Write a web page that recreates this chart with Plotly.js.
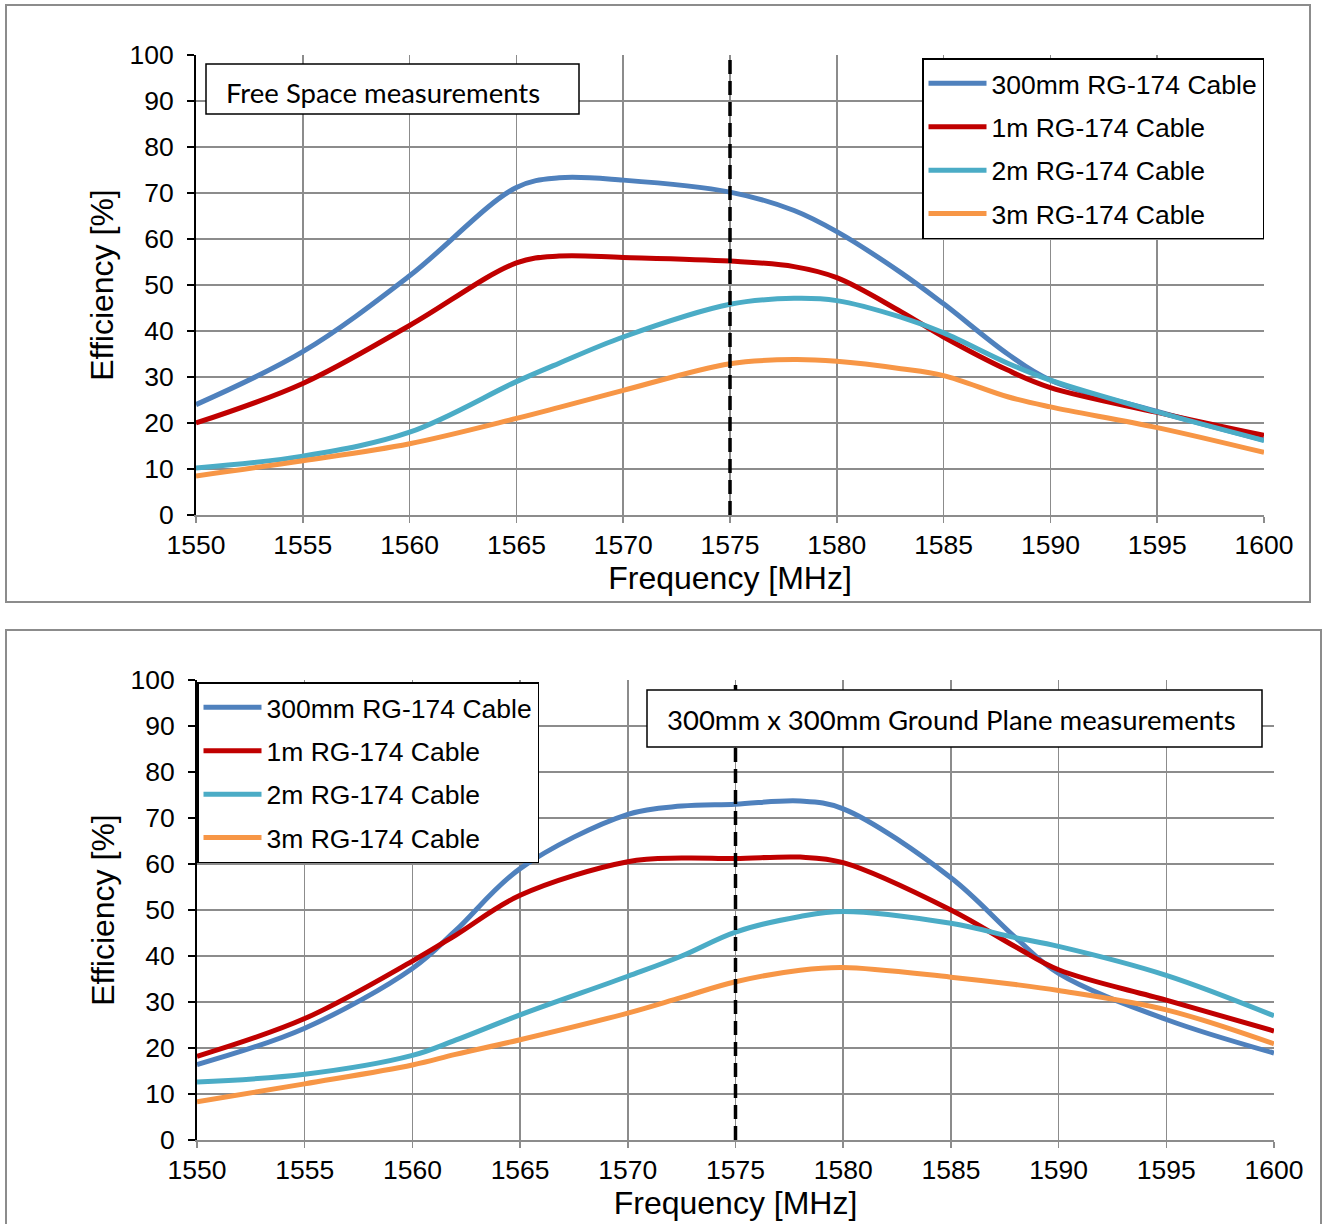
<!DOCTYPE html>
<html>
<head>
<meta charset="utf-8">
<script src="https://cdn.plot.ly/plotly-3.0.1.min.js"></script>
<style>html,body{margin:0;padding:0;background:#fff;}#chart{width:1322px;height:1224px;}</style>
</head>
<body>
<div id="chart"></div>
<script>
// ---------- DATA ----------
const seriesNames = ["300mm RG-174 Cable", "1m RG-174 Cable", "2m RG-174 Cable", "3m RG-174 Cable"];
const seriesColors = ["#4F81BD", "#C00000", "#4BACC6", "#F79646"];
const markerFreq = 1575;

// Free Space measurements
const freqFree = [1550, 1555, 1560, 1565, 1567, 1570, 1575, 1578, 1580, 1583, 1585, 1588, 1590, 1595, 1600];
const free300mm = [24, 35.5, 52, 71.2, 73.3, 72.8, 70.2, 66.2, 61.6, 52.7, 45.9, 35, 29.3, 22.5, 16.3];
const free1m    = [20, 28.6, 41.2, 54.8, 56.3, 56, 55.2, 54, 51.6, 44.2, 38.7, 31.5, 27.7, 22.3, 17.3];
const free2m    = [10.2, 12.8, 18, 29, 33, 38.7, 45.8, 47.1, 46.6, 43, 39.6, 33, 29.3, 22.4, 16.2];
const free3m    = [8.5, 11.8, 15.5, 21, 23.4, 27.1, 32.9, 33.8, 33.4, 31.8, 30.3, 25.7, 23.5, 19, 13.6];

// 300mm x 300mm Ground Plane measurements
const freqGnd = [1550, 1555, 1560, 1562, 1565, 1570, 1572.5, 1575, 1578, 1580, 1585, 1588, 1590, 1595, 1600];
const gnd300mm = [16.4, 24.3, 37.3, 45.5, 59, 70.8, 72.6, 73, 73.7, 72, 57, 44, 36.2, 26.2, 18.9];
const gnd1m    = [18.2, 26.4, 38.9, 44.5, 53.2, 60.5, 61.3, 61.2, 61.5, 60.3, 50, 42, 37, 30.4, 23.7];
const gnd2m    = [12.6, 14.3, 18.4, 21.7, 27.2, 35.6, 40, 45.2, 48.6, 49.7, 47.1, 44, 42.1, 35.8, 27];
const gnd3m    = [8.3, 12.2, 16.3, 18.6, 21.8, 27.6, 31, 34.4, 36.9, 37.5, 35.4, 33.8, 32.5, 28.3, 20.9];

const xTicks = [1550, 1555, 1560, 1565, 1570, 1575, 1580, 1585, 1590, 1595, 1600];
const yTicks = [0, 10, 20, 30, 40, 50, 60, 70, 80, 90, 100];

const freeLabel = "Free Space measurements";
const gndLabel = "300mm x 300mm Ground Plane measurements";
const xTitle = "Frequency [MHz]";
const yTitle = "Efficiency [%]";

// ---------- LAYOUT HELPERS ----------
const W = 1322, H = 1224;
const px = v => v / W;
const py = v => 1 - v / H;

const freeSeries = [free300mm, free1m, free2m, free3m];
const gndSeries = [gnd300mm, gnd1m, gnd2m, gnd3m];

const traces = [];
freeSeries.forEach((ys, i) => traces.push({
  x: freqFree, y: ys, name: seriesNames[i], type: "scatter", mode: "lines",
  line: {color: seriesColors[i], width: 5, shape: "spline", smoothing: 1},
  xaxis: "x", yaxis: "y", legend: "legend", legendgroup: "a" + i
}));
gndSeries.forEach((ys, i) => traces.push({
  x: freqGnd, y: ys, name: seriesNames[i], type: "scatter", mode: "lines",
  line: {color: seriesColors[i], width: 5, shape: "spline", smoothing: 1},
  xaxis: "x2", yaxis: "y2", legend: "legend2", legendgroup: "b" + i
}));

const tickFont = {family: "Liberation Sans, Arial, sans-serif", size: 26.5, color: "#000"};
const titleFont = {family: "Liberation Sans, Arial, sans-serif", size: 32, color: "#000"};
const gridC = "#8c8c8c";

function xAxis(domain, anchor) {
  return {
    domain: domain, anchor: anchor, range: [1550, 1600], tickvals: xTicks,
    showgrid: true, gridcolor: gridC, gridwidth: 1.5,
    showline: true, linecolor: gridC, linewidth: 1.5,
    ticks: "outside", ticklen: 6, tickcolor: gridC, tickwidth: 1.5,
    tickfont: tickFont, zeroline: false,
    title: {text: xTitle, font: titleFont, standoff: 5}
  };
}
function yAxis(domain, anchor) {
  return {
    domain: domain, anchor: anchor, range: [0, 100], tickvals: yTicks,
    showgrid: true, gridcolor: gridC, gridwidth: 1.5,
    showline: true, linecolor: "#000", linewidth: 2,
    ticks: "outside", ticklen: 7, tickcolor: "#000", tickwidth: 2,
    tickfont: tickFont, zeroline: false, ticklabelstandoff: 8,
    title: {text: yTitle, font: titleFont, standoff: 6}
  };
}

const legendCommon = {
  bgcolor: "#fff", bordercolor: "#000", borderwidth: 1.5,
  font: {family: "Liberation Sans, Arial, sans-serif", size: 26.5, color: "#000"},
  xanchor: "left", yanchor: "top", tracegroupgap: 6, itemwidth: 58
};

const layout = {
  width: W, height: H,
  margin: {l: 0, r: 0, t: 0, b: 0},
  paper_bgcolor: "#fff", plot_bgcolor: "#fff",
  showlegend: true,
  xaxis: xAxis([px(196), px(1264)], "y"),
  yaxis: yAxis([py(515), py(55)], "x"),
  xaxis2: xAxis([px(197), px(1274)], "y2"),
  yaxis2: yAxis([py(1140), py(680)], "x2"),
  legend: Object.assign({x: px(922), y: py(58)}, legendCommon),
  legend2: Object.assign({x: px(197), y: py(682)}, legendCommon),
  shapes: [
    {type: "rect", xref: "paper", yref: "paper", x0: px(6), x1: px(1310), y0: py(602), y1: py(5),
     line: {color: gridC, width: 2}, fillcolor: "rgba(0,0,0,0)", layer: "below"},
    {type: "rect", xref: "paper", yref: "paper", x0: px(6), x1: px(1321), y0: py(1240), y1: py(630),
     line: {color: gridC, width: 2}, fillcolor: "rgba(0,0,0,0)", layer: "below"},
    {type: "line", xref: "x", yref: "y domain", x0: markerFreq, x1: markerFreq, y0: 0, y1: 1,
     line: {color: "#000", width: 3.5, dash: "14px,7px"}},
    {type: "line", xref: "x2", yref: "y2 domain", x0: markerFreq, x1: markerFreq, y0: 0, y1: 1,
     line: {color: "#000", width: 3.5, dash: "14px,7px"}},
    {type: "rect", xref: "paper", yref: "paper", x0: px(206), x1: px(579), y0: py(114), y1: py(64),
     line: {color: "#000", width: 1.5}, fillcolor: "#fff"},
    {type: "rect", xref: "paper", yref: "paper", x0: px(647), x1: px(1262), y0: py(747), y1: py(690),
     line: {color: "#000", width: 1.5}, fillcolor: "#fff"}
  ],
  annotations: [
    {xref: "paper", yref: "paper", x: px(224), y: py(93), xanchor: "left", yanchor: "middle",
     text: freeLabel, showarrow: false, font: {family: "Lato, sans-serif", size: 27.5, color: "#000"}},
    {xref: "paper", yref: "paper", x: px(665), y: py(719), xanchor: "left", yanchor: "middle",
     text: gndLabel, showarrow: false, font: {family: "Lato, sans-serif", size: 27.5, color: "#000"}}
  ]
};

Plotly.newPlot("chart", traces, layout, {displayModeBar: false, staticPlot: true});
</script>
</body>
</html>
